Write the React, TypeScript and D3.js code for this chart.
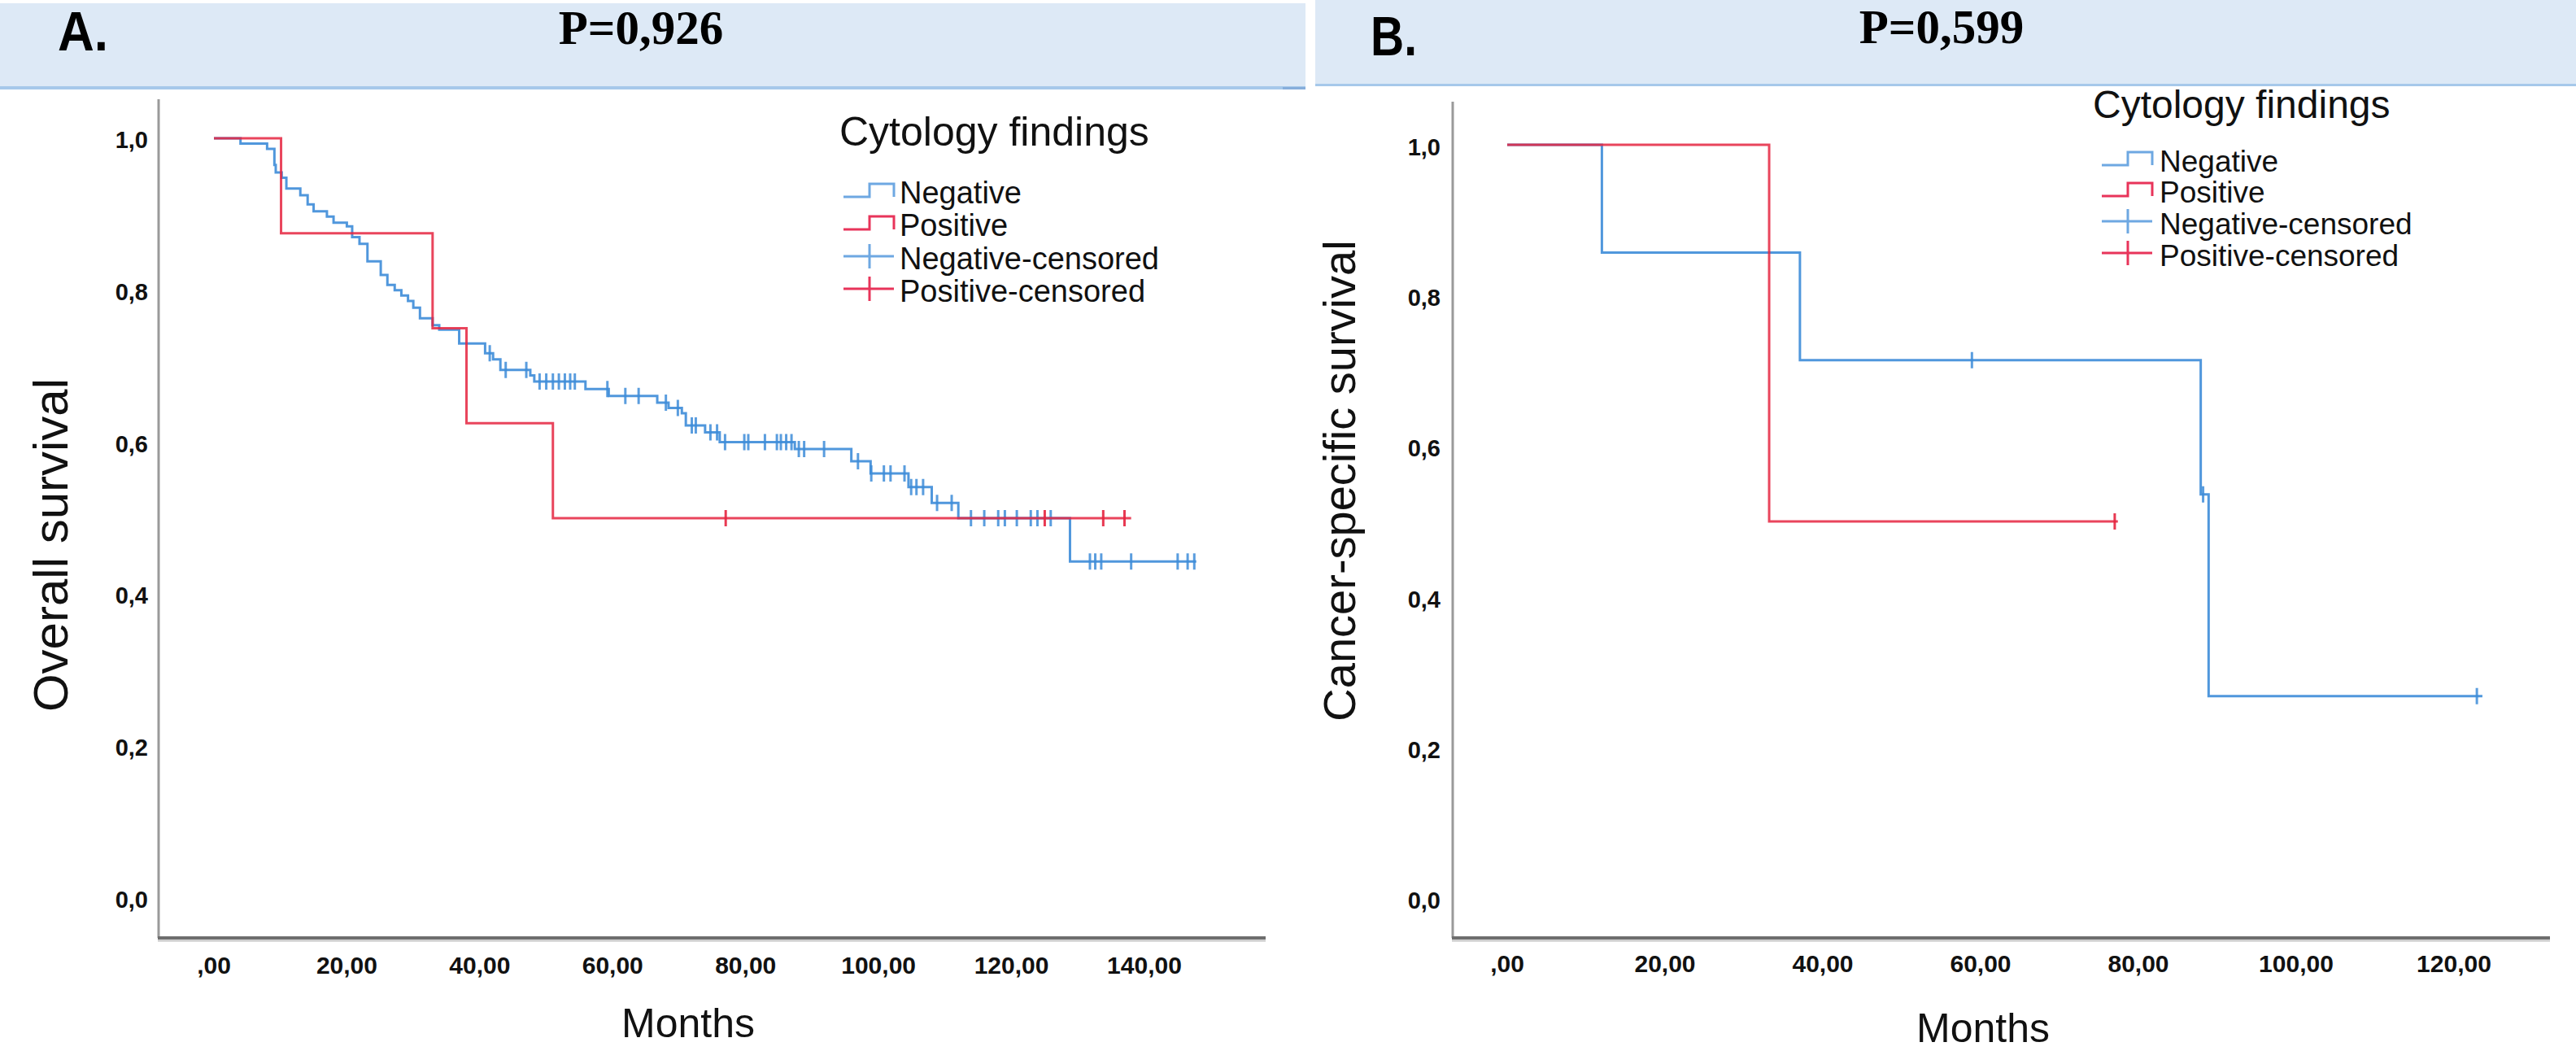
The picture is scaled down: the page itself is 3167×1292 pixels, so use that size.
import React from "react"
import * as d3 from "d3"

type Step = [number, number]

// panel A: overall survival (months, survival after each event)
const negativeStepsA: Step[] = [
  [0, 1], [4.0, 0.993], [8.0, 0.986], [9.1, 0.965], [9.3, 0.955], [10.2, 0.948],
  [10.9, 0.934], [13.0, 0.925], [14.1, 0.913], [15.0, 0.904], [17.0, 0.897],
  [18.0, 0.889], [20.0, 0.884], [20.8, 0.87], [21.9, 0.861], [23.1, 0.838],
  [25.1, 0.82], [26.1, 0.807], [27.2, 0.8], [28.2, 0.793], [29.2, 0.786],
  [30.0, 0.777], [31.0, 0.763], [32.9, 0.754], [33.9, 0.748], [36.9, 0.73],
  [40.8, 0.717], [42.0, 0.709], [43.1, 0.695], [47.6, 0.688], [48.2, 0.68],
  [55.9, 0.67], [59.4, 0.661], [66.7, 0.652], [68.4, 0.645], [70.4, 0.638],
  [71.0, 0.622], [73.9, 0.613], [76.1, 0.6], [87.4, 0.591], [95.9, 0.575],
  [98.8, 0.559], [104.5, 0.541], [108.0, 0.52], [112.0, 0.5], [128.8, 0.443],
]
const negativeCensorA = [
  41.5, 43.9, 47.0, 49.0, 50.0, 51.0, 51.9, 52.8, 53.6, 54.3, 59.2, 61.9, 63.9,
  68.0, 69.8, 71.9, 72.5, 74.7, 75.7, 76.9, 79.8, 80.4, 82.9, 84.7, 85.3, 86.1,
  86.9, 88.0, 88.8, 91.8, 96.9, 98.9, 100.8, 101.8, 103.9, 104.9, 105.7, 106.7,
  108.8, 111.0, 113.9, 115.9, 118.0, 119.0, 120.8, 122.9, 123.9, 125.9, 131.8,
  132.6, 133.5, 138.0, 145.0, 146.5, 147.5,
]
const negativeEndA = 147.8
const positiveStepsA: Step[] = [[0, 1], [10.1, 0.875], [32.9, 0.75], [38.0, 0.625], [51.0, 0.5]]
const positiveCensorA = [77.0, 125.0, 133.8, 137.0]
const positiveEndA = 138.0

// panel B: cancer-specific survival
const negativeStepsB: Step[] = [[0, 1], [12.0, 0.857], [37.1, 0.714], [87.9, 0.536], [88.9, 0.268]]
const negativeCensorB = [58.9, 88.2, 122.9]
const negativeEndB = 123.6
const positiveStepsB: Step[] = [[0, 1], [33.2, 0.5]]
const positiveCensorB = [77.0]
const positiveEndB = 77.4

const monthTicksA = [0, 20, 40, 60, 80, 100, 120, 140]
const monthTicksB = [0, 20, 40, 60, 80, 100, 120]
const survivalTicks = [0, 0.2, 0.4, 0.6, 0.8, 1.0]
const legendLabels = ["Negative", "Positive", "Negative-censored", "Positive-censored"]

const BLUE = "#3d8cd8"
const RED = "#e5243f"
const LEG_BLUE = "#6ea8e2"
const LEG_RED = "#e8345a"
const SANS = "'Liberation Sans', Arial, sans-serif"
const SERIF = "'Liberation Serif', 'Times New Roman', serif"

const fmtMonth = (v: number) => (v === 0 ? ",00" : `${v},00`)
const fmtSurv = (v: number) => v.toFixed(1).replace(".", ",")

function survivalAt(steps: Step[], t: number) {
  let v = steps[0][1]
  for (const [m, s] of steps) if (m <= t) v = s
  return v
}

function stepPath(steps: Step[], end: number, x: d3.ScaleLinear<number, number>, y: d3.ScaleLinear<number, number>) {
  const pts: Step[] = [...steps, [end, steps[steps.length - 1][1]]]
  return d3.line<Step>().x((d) => x(d[0])).y((d) => y(d[1])).curve(d3.curveStepAfter)(pts) || ""
}

function censorPath(steps: Step[], times: number[], x: d3.ScaleLinear<number, number>, y: d3.ScaleLinear<number, number>) {
  return times
    .map((t) => {
      const cx = x(t)
      const cy = y(survivalAt(steps, t))
      return `M${cx},${cy - 10}V${cy + 10}`
    })
    .join("")
}

type PanelProps = {
  x: d3.ScaleLinear<number, number>
  y: d3.ScaleLinear<number, number>
  ticks: number[]
  axisX: number
  axisTop: number
  axisBottom: number
  axisRight: number
  yLabelX: number
  yLabelDy: number
  xLabelY: number
  monthsX: number
  monthsY: number
  yTitle: string
  yTitleX: number
  yTitleY: number
  yTitleSize: number
  neg: Step[]
  negCensor: number[]
  negEnd: number
  pos: Step[]
  posCensor: number[]
  posEnd: number
  legTitleX: number
  legTitleY: number
  legTitleSize: number
  legSymX: number
  legTextX: number
  legRows: number[]
  legTextSize: number
}

const Panel = (p: PanelProps) => {
  const sx0 = p.legSymX
  const sx1 = p.legSymX + 32
  const sx2 = p.legSymX + 62
  return (
    <g>
      {/* axes */}
      <line x1={p.axisX} x2={p.axisX} y1={p.axisTop} y2={p.axisBottom} stroke="#9a9a9a" strokeWidth={3} />
      <line x1={p.axisX - 1} x2={p.axisRight} y1={p.axisBottom} y2={p.axisBottom} stroke="#6e6e6e" strokeWidth={4} />
      <line x1={p.axisX - 1} x2={p.axisRight} y1={p.axisBottom + 3.5} y2={p.axisBottom + 3.5} stroke="#c4c4c4" strokeWidth={2} />
      {survivalTicks.map((v) => (
        <text key={v} x={p.yLabelX} y={p.y(v) + p.yLabelDy} textAnchor="end" dominantBaseline="central"
          fontFamily={SANS} fontWeight="bold" fontSize={29} fill="#111">
          {fmtSurv(v)}
        </text>
      ))}
      {p.ticks.map((v) => (
        <text key={v} x={p.x(v)} y={p.xLabelY} textAnchor="middle" fontFamily={SANS} fontWeight="bold"
          fontSize={30} fill="#111">
          {fmtMonth(v)}
        </text>
      ))}
      <text x={p.monthsX} y={p.monthsY} textAnchor="middle" fontFamily={SANS} fontSize={50} fill="#111">
        Months
      </text>
      <text transform={`translate(${p.yTitleX},${p.yTitleY}) rotate(-90)`} textAnchor="middle"
        dominantBaseline="central" fontFamily={SANS} fontSize={p.yTitleSize} fill="#111">
        {p.yTitle}
      </text>

      {/* curves */}
      <path d={stepPath(p.neg, p.negEnd, p.x, p.y)} fill="none" stroke={BLUE} strokeWidth={3} opacity={0.9} />
      <path d={censorPath(p.neg, p.negCensor, p.x, p.y)} fill="none" stroke={BLUE} strokeWidth={3} opacity={0.85} />
      <path d={stepPath(p.pos, p.posEnd, p.x, p.y)} fill="none" stroke={RED} strokeWidth={3} opacity={0.85} />
      <path d={censorPath(p.pos, p.posCensor, p.x, p.y)} fill="none" stroke={RED} strokeWidth={3} opacity={0.9} />

      {/* legend */}
      <text x={p.legTitleX} y={p.legTitleY} fontFamily={SANS} fontSize={p.legTitleSize} fill="#111">
        Cytology findings
      </text>
      {legendLabels.map((label, i) => {
        const base = p.legRows[i]
        const col = i % 2 === 0 ? LEG_BLUE : LEG_RED
        const sym =
          i < 2
            ? `M${sx0},${base - 8}H${sx1}V${base - 24}H${sx2}V${base - 8}`
            : `M${sx0},${base - 16}H${sx2}M${sx1},${base - 31}V${base - 1}`
        return (
          <g key={label}>
            <path d={sym} fill="none" stroke={col} strokeWidth={3} />
            <text x={p.legTextX} y={base} fontFamily={SANS} fontSize={p.legTextSize} fill="#111">
              {label}
            </text>
          </g>
        )
      })}
    </g>
  )
}

export default function App() {
  const xA = d3.scaleLinear().domain([0, 140]).range([263, 1407])
  const yA = d3.scaleLinear().domain([0, 1]).range([1104, 170])
  const xB = d3.scaleLinear().domain([0, 120]).range([1853, 3017])
  const yB = d3.scaleLinear().domain([0, 1]).range([1104, 178])

  return (
    <svg width={3167} height={1292} style={{ position: "absolute", left: 0, top: 0, background: "#fff" }}>
      <rect x={0} y={0} width={3167} height={1292} fill="#fff" />
      {/* header bands */}
      <rect x={0} y={4} width={1605} height={102} fill="#dde9f6" />
      <line x1={0} x2={1605} y1={108} y2={108} stroke="#a6c8ea" strokeWidth={4} />
      <line x1={1577} x2={1605} y1={108.5} y2={108.5} stroke="#86aedb" strokeWidth={3} />
      <rect x={1617} y={0} width={1550} height={103} fill="#dde9f6" />
      <line x1={1617} x2={3167} y1={104.5} y2={104.5} stroke="#a6c8ea" strokeWidth={3} />
      <text x={71} y={62} fontFamily={SANS} fontWeight="bold" fontSize={68} textLength={62}
        lengthAdjust="spacingAndGlyphs" fill="#000">A.</text>
      <text x={1685} y={68} fontFamily={SANS} fontWeight="bold" fontSize={68} textLength={57}
        lengthAdjust="spacingAndGlyphs" fill="#000">B.</text>
      <text x={788} y={54} textAnchor="middle" fontFamily={SERIF}
        fontWeight="bold" fontSize={59} fill="#000">P=0,926</text>
      <text x={2387} y={53} textAnchor="middle" fontFamily={SERIF}
        fontWeight="bold" fontSize={59} fill="#000">P=0,599</text>

      <Panel
        x={xA} y={yA} ticks={monthTicksA}
        axisX={195} axisTop={122} axisBottom={1153} axisRight={1556}
        yLabelX={182} yLabelDy={2} xLabelY={1197}
        monthsX={846} monthsY={1275}
        yTitle="Overall survival" yTitleX={62} yTitleY={670} yTitleSize={60}
        neg={negativeStepsA} negCensor={negativeCensorA} negEnd={negativeEndA}
        pos={positiveStepsA} posCensor={positiveCensorA} posEnd={positiveEndA}
        legTitleX={1032} legTitleY={179} legTitleSize={50}
        legSymX={1037} legTextX={1106} legRows={[250, 290, 331, 371]} legTextSize={38}
      />
      <Panel
        x={xB} y={yB} ticks={monthTicksB}
        axisX={1786} axisTop={125} axisBottom={1153} axisRight={3135}
        yLabelX={1771} yLabelDy={3} xLabelY={1195}
        monthsX={2438} monthsY={1281}
        yTitle="Cancer-specific survival" yTitleX={1646} yTitleY={591} yTitleSize={56}
        neg={negativeStepsB} negCensor={negativeCensorB} negEnd={negativeEndB}
        pos={positiveStepsB} posCensor={positiveCensorB} posEnd={positiveEndB}
        legTitleX={2573} legTitleY={145} legTitleSize={48}
        legSymX={2584} legTextX={2655} legRows={[211, 249, 288, 327]} legTextSize={37}
      />
    </svg>
  )
}
